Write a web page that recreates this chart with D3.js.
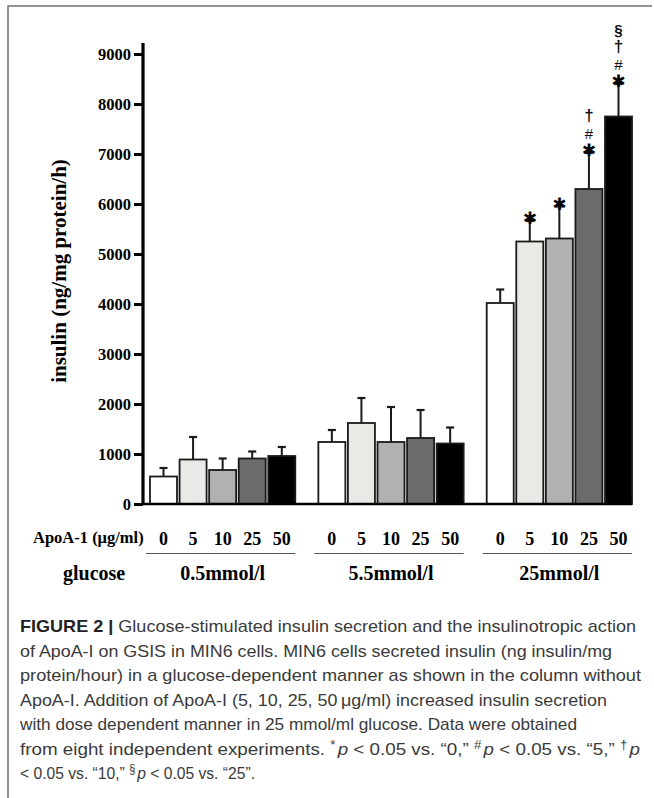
<!DOCTYPE html>
<html><head><meta charset="utf-8">
<script src="https://cdn.jsdelivr.net/npm/d3@7"></script>
<style>html,body{margin:0;padding:0;background:#fff;}svg{display:block;}</style>
</head><body>
<svg id="c" width="654" height="798"></svg>
<script>
const groups = ["0.5mmol/l", "5.5mmol/l", "25mmol/l"];
const doses = ["0", "5", "10", "25", "50"];
const means = [
  [550, 890, 680, 910, 960],
  [1240, 1620, 1240, 1320, 1210],
  [4020, 5250, 5310, 6300, 7750]
];
const errTops = [
  [720, 1340, 910, 1050, 1140],
  [1480, 2120, 1940, 1880, 1530],
  [4290, 5660, 5950, 7020, 8400]
];
const marks = [
  ["", "", "", "", ""],
  ["", "", "", "", ""],
  ["", "*", "*", "*#†", "*#†§"]
];
const yTicks = [0, 1000, 2000, 3000, 4000, 5000, 6000, 7000, 8000, 9000];
const doseColors = ["#ffffff", "#e9eae5", "#b1b1b1", "#6b6b6b", "#000000"];
const captionLines = [
  [["b","FIGURE 2 | "],["n","Glucose-stimulated insulin secretion and the insulinotropic action"]],
  [["n","of ApoA-I on GSIS in MIN6 cells. MIN6 cells secreted insulin (ng insulin/mg"]],
  [["n","protein/hour) in a glucose-dependent manner as shown in the column without"]],
  [["n","ApoA-I. Addition of ApoA-I (5, 10, 25, 50\u2009\u03bcg/ml) increased insulin secretion"]],
  [["n","with dose dependent manner in 25 mmol/ml glucose. Data were obtained"]],
  [["n","from eight independent experiments. "],["s","*"],["i","p"],["n"," < 0.05 vs. \u201c0,\u201d "],["s","#"],["i","p"],["n"," < 0.05 vs. \u201c5,\u201d "],["s","\u2020"],["i","p"]],
  [["n","< 0.05 vs. \u201c10,\u201d "],["s","\u00a7"],["i","p"],["n"," < 0.05 vs. \u201c25\u201d."]]
];
const captionWidths = [616, 592, 621, 587, 557, 620, 235];

const svg = d3.select("#c");
const serif = "'Liberation Serif','Times New Roman',serif";
const sans = "'Liberation Sans',Arial,Helvetica,sans-serif";

// frame
svg.append("path").attr("d", "M8,798 L8,6 L652,6").attr("fill","none").attr("stroke","#6f6f6f").attr("stroke-width",1.5);

const y = d3.scaleLinear().domain([0, 9000]).range([504, 54]);
const xg = d3.scaleBand().domain(groups).range([150, 632]).paddingInner(0.137).paddingOuter(0);
const xd = d3.scaleBand().domain(doses).range([0, xg.bandwidth()]).paddingInner(0.087).paddingOuter(0);

// y axis
const yAxis = d3.axisLeft(y).tickValues(yTicks).tickSize(9).tickFormat(d3.format("d"));
const ga = svg.append("g").attr("transform","translate(143,0)").call(yAxis);
ga.select(".domain").attr("d", `M0,${y(9000)-11}V${y(0)}`).attr("stroke","#000").attr("stroke-width",3.2);
ga.selectAll(".tick line").attr("stroke","#000").attr("stroke-width",3);
ga.selectAll(".tick text").attr("x",-12).attr("font-family",serif).attr("font-weight","bold").attr("font-size",16.5).attr("fill","#000");

// y title
svg.append("text").attr("transform","translate(66,271) rotate(-90)").attr("text-anchor","middle")
  .attr("font-family",serif).attr("font-weight","bold").attr("font-size",21).text("insulin (ng/mg protein/h)");

// bars
groups.forEach((g, gi) => {
  const gg = svg.append("g").attr("transform", `translate(${xg(g)},0)`);
  gg.selectAll("rect").data(doses).enter().append("rect")
    .attr("x", d => xd(d)).attr("width", xd.bandwidth())
    .attr("y", (d,i) => y(means[gi][i])).attr("height", (d,i) => y(0) - y(means[gi][i]))
    .attr("fill", (d,i) => doseColors[i]).attr("stroke","#1a1a1a").attr("stroke-width",1.8);
  // error bars
  gg.selectAll("line.err").data(doses).enter().append("line").attr("class","err")
    .attr("x1", d => xd(d) + xd.bandwidth()/2).attr("x2", d => xd(d) + xd.bandwidth()/2)
    .attr("y1", (d,i) => y(means[gi][i])).attr("y2", (d,i) => y(errTops[gi][i]))
    .attr("stroke","#1a1a1a").attr("stroke-width",2);
  gg.selectAll("line.cap").data(doses).enter().append("line").attr("class","cap")
    .attr("x1", d => xd(d) + xd.bandwidth()/2 - 4).attr("x2", d => xd(d) + xd.bandwidth()/2 + 4)
    .attr("y1", (d,i) => y(errTops[gi][i])).attr("y2", (d,i) => y(errTops[gi][i]))
    .attr("stroke","#1a1a1a").attr("stroke-width",2.2);
  // significance marks
  doses.forEach((d, i) => {
    const m = marks[gi][i];
    if (!m) return;
    const cx = xd(d) + xd.bandwidth()/2;
    let yy = y(errTops[gi][i]) - 3;
    [...m].forEach((ch) => {
      if (ch === "*") {
        gg.append("text").attr("x", cx).attr("y", yy + 6).attr("text-anchor","middle")
          .attr("font-family","'DejaVu Sans',sans-serif").attr("font-size",17).attr("font-weight","bold").text("\u2731");
        yy -= 18;
      } else if (ch === "#") {
        gg.append("text").attr("x", cx).attr("y", yy + 7).attr("text-anchor","middle")
          .attr("font-family",sans).attr("font-size",15).attr("fill","#111").text("#");
        yy -= 16;
      } else if (ch === "†") {
        gg.append("text").attr("x", cx).attr("y", yy + 5).attr("text-anchor","middle")
          .attr("font-family",sans).attr("font-size",17).attr("font-weight","bold").attr("fill","#111").text("\u2020");
        yy -= 15;
      } else {
        gg.append("text").attr("x", cx).attr("y", yy + 3).attr("text-anchor","middle")
          .attr("font-family",sans).attr("font-size",15).attr("font-weight","bold").attr("fill","#111").text("\u00a7");
        yy -= 15;
      }
    });
  });
  // dose labels
  gg.selectAll("text.dose").data(doses).enter().append("text").attr("class","dose")
    .attr("x", d => xd(d) + xd.bandwidth()/2).attr("y", 545).attr("text-anchor","middle")
    .attr("font-family",serif).attr("font-weight","bold").attr("font-size",18).text(d => d);
  // group underline
  gg.append("line").attr("x1",-4).attr("x2",xg.bandwidth()).attr("y1",553.5).attr("y2",553.5)
    .attr("stroke","#555").attr("stroke-width",1.2);
  // glucose label
  gg.append("text").attr("x", xg.bandwidth()/2).attr("y", 580).attr("text-anchor","middle")
    .attr("font-family",serif).attr("font-weight","bold").attr("font-size",20).text(g);
});

// x baseline
svg.append("line").attr("x1",142).attr("x2",632).attr("y1",y(0)).attr("y2",y(0)).attr("stroke","#000").attr("stroke-width",2.6);

// row labels
svg.append("text").attr("x",33).attr("y",543).attr("font-family",serif).attr("font-weight","bold").attr("font-size",16.5).text("ApoA-1 (\u03bcg/ml)");
svg.append("text").attr("x",63).attr("y",580).attr("font-family",serif).attr("font-weight","bold").attr("font-size",20).text("glucose");

// caption
captionLines.forEach((parts, li) => {
  const t = svg.append("text").attr("x",20).attr("y",632 + li*24.5)
    .attr("font-family",sans).attr("font-size",17).attr("fill","#3a3a3a")
    .attr("textLength", captionWidths[li]).attr("lengthAdjust","spacingAndGlyphs");
  parts.forEach(([k, s], i) => {
    const ts = t.append("tspan").text(s);
    const prev = i > 0 ? parts[i-1][0] : null;
    if (k === "b") ts.attr("font-weight","bold").attr("fill","#222");
    if (k === "i") ts.attr("font-style","italic").attr("dx", 2);
    if (k === "s") ts.attr("font-size",12).attr("dy",-6);
    if (prev === "s") ts.attr("dy", 6);
  });
});
</script>
</body></html>
